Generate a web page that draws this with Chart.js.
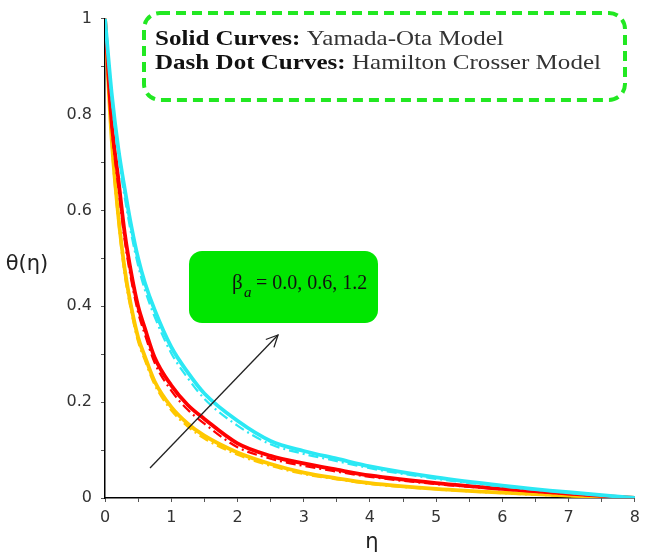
<!DOCTYPE html>
<html><head><meta charset="utf-8">
<script src="https://cdn.jsdelivr.net/npm/chart.js@4.4.1/dist/chart.umd.min.js"></script>
<style>html,body{margin:0;padding:0;background:#fff;}#wrap{width:646px;height:558px;position:relative;}</style>
</head><body><div id="wrap"><canvas id="c" width="646" height="558"></canvas></div>
<script>
const eta = [0,0.1,0.2,0.3,0.4,0.5,0.6,0.75,1,1.25,1.5,2,2.5,3,3.5,4,5,6,7,8];
const cyanSolid = [1,0.845,0.73,0.643,0.565,0.5,0.45,0.392,0.315,0.262,0.218,0.161,0.119,0.098,0.082,0.066,0.043,0.026,0.012,0];
const cyanDash  = [1,0.835,0.715,0.625,0.548,0.485,0.435,0.378,0.302,0.25,0.207,0.151,0.112,0.092,0.077,0.062,0.04,0.024,0.011,0];
const redSolid  = [1,0.785,0.667,0.55,0.466,0.4,0.355,0.293,0.235,0.194,0.165,0.114,0.088,0.072,0.059,0.047,0.031,0.019,0.009,0];
const redDash   = [1,0.775,0.65,0.535,0.452,0.387,0.342,0.282,0.224,0.184,0.155,0.106,0.082,0.067,0.055,0.044,0.029,0.018,0.008,0];
const yelSolid  = [1,0.75,0.59,0.475,0.396,0.335,0.296,0.243,0.19,0.155,0.13,0.095,0.071,0.053,0.041,0.031,0.019,0.011,0.005,0];
const yelDash   = [1,0.74,0.578,0.463,0.386,0.326,0.288,0.236,0.183,0.149,0.124,0.09,0.067,0.05,0.039,0.029,0.018,0.01,0.004,0];
const xTickLabels = ['0','1','2','3','4','5','6','7','8'];
const yTickLabels = ['0','0.2','0.4','0.6','0.8','1'];

const CYAN='#2BE8F4', RED='#FF0000', GOLD='#FFC800';
function pts(arr){ return eta.map((x,i)=>({x:x,y:arr[i]})); }
function ds(arr,color,dash){
  return {data:pts(arr),borderColor:color,borderWidth:dash?2.2:3.8,borderDash:dash?[10,4,2,4]:[],
    pointRadius:0,fill:false,cubicInterpolationMode:'monotone'};
}

const overlay = {
  id:'overlay',
  afterDraw(chart){
    const ctx=chart.ctx;
    ctx.save();
    ctx.strokeStyle='#22E822'; ctx.lineWidth=4; ctx.setLineDash([10,6]);
    ctx.beginPath(); ctx.roundRect(144,13,481,87,16); ctx.stroke();
    ctx.setLineDash([]);
    ctx.textBaseline='alphabetic'; ctx.textAlign='left';
    const f = 21;
    const B='bold '+f+'px "Liberation Serif", serif', R=f+'px "Liberation Serif", serif';
    ctx.font=B; const w1=ctx.measureText('Solid Curves: ').width, w2=ctx.measureText('Dash Dot Curves: ').width;
    ctx.font=R; const wr=ctx.measureText('Hamilton Crosser Model').width;
    const sx = 446/(w2+wr);
    ctx.save(); ctx.translate(155,0); ctx.scale(sx,1);
    ctx.fillStyle='#111'; ctx.font=B;
    ctx.fillText('Solid Curves: ',0,45);
    ctx.fillText('Dash Dot Curves: ',0,69);
    ctx.fillStyle='#333'; ctx.font=R;
    ctx.fillText('Yamada-Ota Model',w1,45);
    ctx.fillText('Hamilton Crosser Model',w2,69);
    ctx.restore();
    ctx.fillStyle='#00E600';
    ctx.beginPath(); ctx.roundRect(189,251,189,72,13); ctx.fill();
    ctx.fillStyle='#111';
    ctx.font='21px "Liberation Serif", serif';
    ctx.fillText('\u03B2',232,289);
    ctx.font='italic 15px "Liberation Serif", serif';
    ctx.fillText('a',244,297);
    ctx.font='20px "Liberation Serif", serif';
    ctx.fillText('= 0.0, 0.6, 1.2',256,289);
    const x0=150,y0=468,x1=278,y1=335;
    ctx.strokeStyle='#222'; ctx.lineWidth=1.3;
    ctx.beginPath(); ctx.moveTo(x0,y0); ctx.lineTo(x1,y1); ctx.stroke();
    const a=Math.atan2(y1-y0,x1-x0), L=13, s=0.45;
    ctx.beginPath();
    ctx.moveTo(x1-L*Math.cos(a-s),y1-L*Math.sin(a-s)); ctx.lineTo(x1,y1);
    ctx.lineTo(x1-L*Math.cos(a+s),y1-L*Math.sin(a+s)); ctx.stroke();
    ctx.fillStyle='#222'; ctx.textAlign='center'; ctx.textBaseline='middle';
    ctx.font='21px "DejaVu Sans", sans-serif';
    ctx.fillText('\u03B8(\u03B7)',27,265);
    ctx.fillText('\u03B7',372,543);
    ctx.restore();
  }
};

new Chart(document.getElementById('c'),{
  type:'line',
  data:{datasets:[ds(cyanSolid,CYAN,false),ds(cyanDash,CYAN,true),ds(redSolid,RED,false),ds(redDash,RED,true),ds(yelSolid,GOLD,false),ds(yelDash,GOLD,true)]},
  options:{
    responsive:false,animation:false,
    layout:{padding:{top:7,right:8,left:0,bottom:0}},
    plugins:{legend:{display:false},tooltip:{enabled:false}},
    scales:{
      x:{type:'linear',min:0,max:8,
        border:{color:'#000',width:1.5},
        grid:{display:true,drawOnChartArea:false,drawTicks:true,tickLength:4,color:'#555'},
        ticks:{stepSize:0.5,autoSkip:false,maxRotation:0,padding:6,color:'#333',font:{family:'"DejaVu Sans", sans-serif',size:16},
          callback:(v)=>{const r=Math.round(v*2); return r%2===0? xTickLabels[r/2] : '';}},
        afterFit:(s)=>{s.height=60;}
      },
      y:{type:'linear',min:0,max:1,
        border:{color:'#000',width:1.5},
        grid:{display:true,drawOnChartArea:false,drawTicks:true,tickLength:4,color:'#555'},
        ticks:{stepSize:0.1,autoSkip:false,padding:9,color:'#333',font:{family:'"DejaVu Sans", sans-serif',size:16},
          callback:(v)=>{const r=Math.round(v*10); return r%2===0? yTickLabels[r/2] : '';}},
        afterFit:(s)=>{s.width=105;}
      }
    }
  },
  plugins:[overlay]
});
</script></body></html>
